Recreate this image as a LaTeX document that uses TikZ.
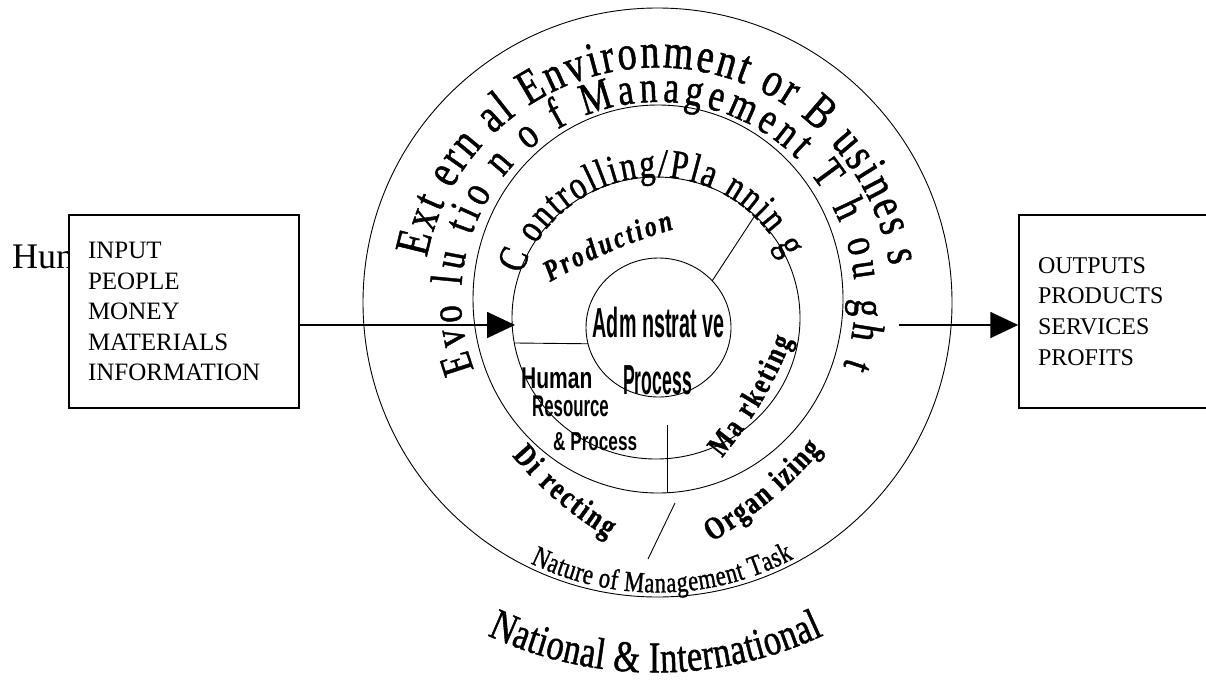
\documentclass[tikz,border=0pt]{standalone}
\usepackage{fontspec}
\setmainfont{Liberation Serif}
\setsansfont{Liberation Sans}
\newfontfamily\artfont[FakeStretch=0.78,FakeBold=1]{Liberation Serif}
\usetikzlibrary{arrows.meta,shapes.geometric,decorations.text}
\newcommand{\wsize}[1]{\fontsize{#1}{#1}\selectfont}
\newcommand{\narrow}[2]{\scalebox{#1}[1]{#2}}

\begin{document}
\begin{tikzpicture}[x=1pt,y=1pt,
        ring/.style={ellipse, draw, line width=0.9pt, inner sep=0pt, outer sep=0pt},
        iobox/.style={rectangle, draw, line width=1.5pt, fill=white, align=left,
            inner xsep=19pt, inner ysep=0pt, minimum height=193pt},
        flow/.style={line width=1.8pt, -{Triangle[length=28pt,width=26pt]}},
        split/.style={line width=0.9pt},
        curved/.style={decorate, decoration={text along path, text align={fit to path}, text={#1}}},
        plain/.style={font=\sffamily\bfseries, inner sep=0pt}]
        \useasboundingbox (0,0) rectangle (1206,-680);
        \clip (0,0) rectangle (1206,-680);

        \node[ring, minimum width=589pt, minimum height=589pt] (env)     at (657.5,-302.5) {};
        \node[ring, minimum width=370pt, minimum height=388pt] (thought) at (658,-299) {};
        \node[ring, minimum width=288pt, minimum height=282pt] (tasks)   at (656,-318) {};
        \node[ring, minimum width=145pt, minimum height=139pt] (core)    at (658.5,-327.5) {};
        \coordinate (nat) at (655.5,-274.5);

        \node[font=\wsize{36}, anchor=base west, inner sep=0pt] (hum) at (12,-268) {Hun};
        \node[iobox, text width=192pt, font=\fontsize{25}{30.5}\selectfont] (in) at (184,-311.5)
            {INPUT\\PEOPLE\\MONEY\\MATERIALS\\INFORMATION};
        \node[iobox, text width=202pt, font=\fontsize{24}{30.7}\selectfont] (out) at (1139,-311.5)
            {OUTPUTS\\PRODUCTS\\SERVICES\\PROFITS};

        \draw[split] (tasks.190) -- (core.193);
        \draw[split] (core.41) -- (tasks.46);
        \coordinate (hrtop) at (667,-425);
        \draw[split] (hrtop) -- (hrtop |- thought.south);
        \coordinate (taska) at (675,-503);
        \coordinate (taskb) at (648,-559);
        \draw[split] (taska) -- (taskb);

        \path[curved={|\artfont\wsize{49}|Ext ern al Environment or B usines s}]
            ([shift={(169:235)}]env.center) arc[start angle=169, end angle=9, radius=235];
        \path[curved={|\artfont\wsize{45}|Evo lu tio n o f Management T h ou gh t}]
            ([shift={(201:197)}]thought.center) arc[start angle=201, end angle=-20, radius=197];
        \path[curved={|\artfont\wsize{41}|C ontrolling/Pla nnin g}]
            ([shift={(162:141)}]tasks.center) arc[start angle=162, end angle=25, radius=141];
        \path[curved={|\artfont\wsize{30}\bfseries\itshape|Production}] (550,-282) to[bend left=6] (674,-229);
        \path[curved={|\artfont\wsize{31}\bfseries|Ma rketing}] (722,-458) to[bend right=8] (792,-340);
        \path[curved={|\artfont\wsize{32}\bfseries|Organ izing}] (712,-542) to[bend right=8] (822,-450);
        \path[curved={|\artfont\wsize{32}\bfseries|Di recting}] (512,-456) to[bend right=8] (608,-538);
        \path[curved={|\artfont\wsize{29}|Nature of Management Task}]
            ([shift={(244:290)}]env.center) arc[start angle=244, end angle=298, radius=290];
        \path[curved={|\artfont\wsize{44}|National {\&} International}]
            ([shift={(245:398)}]nat) arc[start angle=245, end angle=295, radius=398];

        \node[plain, font=\sffamily\bfseries\wsize{42}, anchor=base] (admin) at (658.5,-337) {\narrow{0.47}{Adm nstrat ve}};
        \node[plain, font=\sffamily\bfseries\wsize{42}, anchor=base] (proc) at (657.5,-394) {\narrow{0.42}{Process}};
        \node[plain, font=\sffamily\bfseries\wsize{30}, anchor=base west] (hr) at (521,-388) {\narrow{0.70}{Human}};
        \node[plain, font=\sffamily\bfseries\wsize{30}, anchor=base west] (res) at (532,-416) {\narrow{0.56}{Resource}};
        \node[plain, font=\sffamily\bfseries\wsize{26}, anchor=base west] (hrproc) at (553,-450) {\narrow{0.66}{\& Process}};

        \coordinate (intip) at (515,-325);
        \draw[flow] (in.east |- intip) -- (intip);
        \coordinate (outfoot) at (899,-325);
        \draw[flow] (outfoot) -- (outfoot -| out.west);
    \end{tikzpicture}
\end{document}
